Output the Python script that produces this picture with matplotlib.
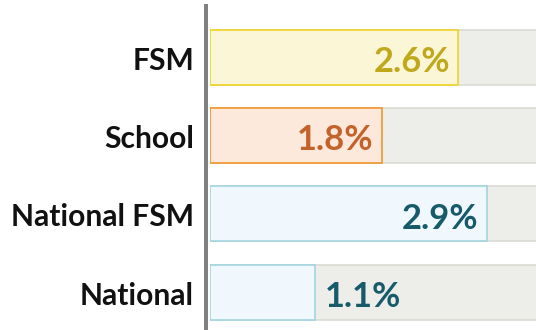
import matplotlib
matplotlib.use('Agg')
import matplotlib.pyplot as plt
from matplotlib.lines import Line2D

categories = ['FSM', 'School', 'National FSM', 'National']
values = [2.6, 1.8, 2.9, 1.1]
labels = ['2.6%', '1.8%', '2.9%', '1.1%']

fills = ['#fbf6d6', '#fde9dc', '#f0f8fd', '#f0f8fd']
edges = ['#efd31e', '#f39224', '#9fd4e0', '#9fd4e0']
text_colors = ['#c0a81c', '#c4622b', '#175b6b', '#175b6b']

plt.rcParams['font.family'] = ['Lato', 'DejaVu Sans']

W, H, DPI = 536, 330, 100
px = 72.0 / DPI  # points per pixel

fig = plt.figure(figsize=(W / DPI, H / DPI), dpi=DPI)
ax = fig.add_axes([210 / W, 0, 1 - 210 / W, 1])

xmax = 326 / 95.4
pos = list(range(len(categories)))

# grey track behind every bar
ax.barh(pos, [xmax * 2] * len(pos), height=0.705, color='#ededea',
        edgecolor='#d8d8d0', linewidth=1.5 * px, zorder=1)
ax.barh(pos, values, height=0.705, color=fills, edgecolor=edges,
        linewidth=1.6 * px, zorder=2)

for i, (v, lab, c) in enumerate(zip(values, labels, text_colors)):
    if v < 1.5:
        ax.annotate(lab, (v, i), xytext=(10 * px, -14.8 * px), textcoords='offset points',
                    ha='left', va='baseline', fontsize=34.5 * px, fontweight='bold',
                    color=c, zorder=3)
    else:
        ax.annotate(lab, (v, i), xytext=(-8 * px, -14.8 * px), textcoords='offset points',
                    ha='right', va='baseline', fontsize=34.5 * px, fontweight='bold',
                    color=c, zorder=3)
    ax.annotate(categories[i], (0, i), xytext=(-16 * px, -12.5 * px),
                textcoords='offset points', ha='right', va='baseline',
                fontsize=30 * px, fontweight='bold', color='#111111',
                annotation_clip=False)

ax.set_xlim(0, xmax)
ax.set_ylim(3.485, -0.735)
ax.axis('off')

# vertical axis line
fig.add_artist(Line2D([206 / W, 206 / W], [0, 1 - 4 / H], transform=fig.transFigure,
                      color='#808080', linewidth=4 * px, solid_capstyle='butt'))

fig.savefig('out.png', dpi=DPI)
